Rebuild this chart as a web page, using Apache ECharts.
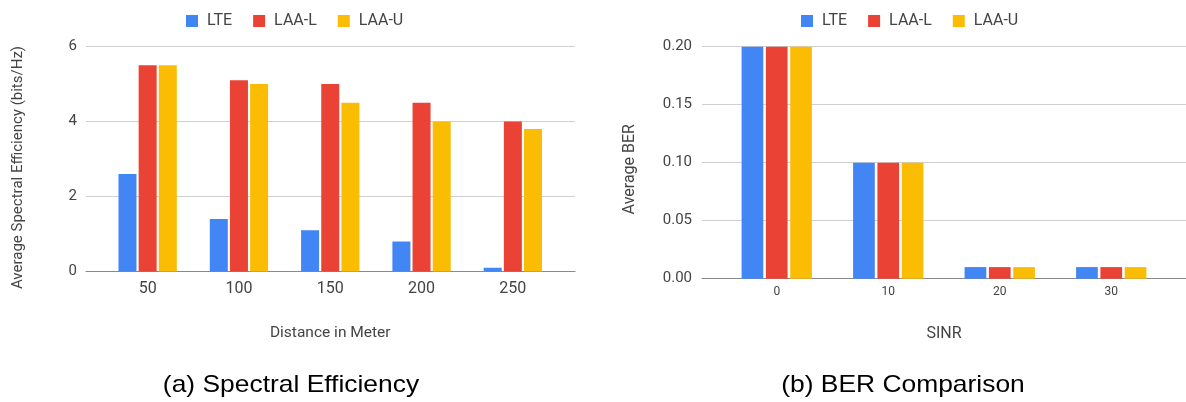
<!DOCTYPE html>
<html>
<head>
<meta charset="utf-8">
<script src="https://cdn.jsdelivr.net/npm/echarts@6/dist/echarts.min.js"></script>
<style>
html,body{margin:0;padding:0;background:#fff;}
#chart{width:1186px;height:402px;}
</style>
</head>
<body>
<div id="chart"></div>
<script>
// ---- Data: (a) Spectral Efficiency ----
const seCategories = ['50', '100', '150', '200', '250'];
const seLTE  = [2.6, 1.4, 1.1, 0.8, 0.1];
const seLAAL = [5.5, 5.1, 5.0, 4.5, 4.0];
const seLAAU = [5.5, 5.0, 4.5, 4.0, 3.8];
const seTicks = [0, 2, 4, 6];

// ---- Data: (b) BER Comparison ----
const berCategories = ['0', '10', '20', '30'];
const berLTE  = [0.20, 0.10, 0.01, 0.01];
const berLAAL = [0.20, 0.10, 0.01, 0.01];
const berLAAU = [0.20, 0.10, 0.01, 0.01];
const berTicks = [0, 0.05, 0.10, 0.15, 0.20];

const seriesNames = ['LTE', 'LAA-L', 'LAA-U'];
const captions = ['(a) Spectral Efficiency', '(b) BER Comparison'];
const colors = ['#4285F4', '#EA4335', '#FBBC04'];

const FONT = 'Roboto';
const TXT = '#444';

const chart = echarts.init(document.getElementById('chart'), null, {renderer: 'canvas'});

function frameX(gridIndex) {
  return {
    type: 'value', gridIndex: gridIndex, min: 0, max: 1,
    axisLine: {show: true, onZero: false, lineStyle: {color: '#8a8a8a', width: 1.2}},
    axisTick: {show: false}, axisLabel: {show: false}, splitLine: {show: false}
  };
}

function frameY(gridIndex, ticks, fmt, fontSize, margin, name, nameSize, nameGap, namePad) {
  const step = ticks[1] - ticks[0];
  return {
    type: 'value', gridIndex: gridIndex,
    min: ticks[0], max: ticks[ticks.length - 1], interval: step,
    axisLine: {show: false}, axisTick: {show: false},
    axisLabel: {color: TXT, fontFamily: FONT, fontSize: fontSize, margin: margin, formatter: fmt},
    splitLine: {show: true, lineStyle: {color: '#d0d0d0', width: 1}},
    name: name, nameLocation: 'middle', nameGap: nameGap,
    nameTextStyle: {color: TXT, fontFamily: FONT, fontSize: nameSize, padding: namePad}
  };
}

function barsY(gridIndex, ticks) {
  return {type: 'value', gridIndex: gridIndex, min: ticks[0], max: ticks[ticks.length - 1], show: false};
}

function barsX(gridIndex, cats, fontSize, margin, name, nameSize, nameGap) {
  return {
    type: 'category', gridIndex: gridIndex, data: cats, boundaryGap: true,
    axisLine: {show: false}, axisTick: {show: false},
    axisLabel: {color: TXT, fontFamily: FONT, fontSize: fontSize, margin: margin},
    splitLine: {show: false},
    name: name, nameLocation: 'middle', nameGap: nameGap,
    nameTextStyle: {color: TXT, fontFamily: FONT, fontSize: nameSize}
  };
}

function barSeries(idx, name, data, color, width) {
  return {
    type: 'bar', name: name, data: data, xAxisIndex: idx, yAxisIndex: idx,
    barWidth: width, barGap: '12%',
    itemStyle: {color: color}
  };
}

function legend(left) {
  return {
    left: left, top: 8, icon: 'rect', itemWidth: 12, itemHeight: 12, itemGap: 21,
    data: seriesNames,
    textStyle: {color: TXT, fontFamily: FONT, fontSize: 16, lineHeight: 14, padding: [0, 0, 0, 4]}
  };
}

function caption(text, cx) {
  return {
    type: 'text', x: cx, y: 385, scaleX: 1.1, scaleY: 1,
    style: {text: text, fill: '#000', font: 'normal 24px "Liberation Sans", Arial, sans-serif',
            textAlign: 'center', textVerticalAlign: 'middle'}
  };
}

const option = {
  backgroundColor: '#fff',
  animation: false,
  color: colors,
  graphic: [caption(captions[0], 291), caption(captions[1], 903)],
  legend: [legend(181), legend(796)],
  grid: [
    {left: 86, right: 611, top: 46.5, bottom: 130.5},
    {left: 102, right: 627.5, top: 46.5, bottom: 130.5},
    {left: 702, right: 0, top: 46.7, bottom: 123.3},
    {left: 721, right: 19, top: 46.7, bottom: 123.3}
  ],
  xAxis: [
    frameX(0),
    barsX(1, seCategories, 16, 9, 'Distance in Meter', 15.5, 54),
    frameX(2),
    barsX(3, berCategories, 12, 7, 'SINR', 16, 47)
  ],
  yAxis: [
    frameY(0, seTicks, v => String(v), 15, 9, 'Average Spectral Efficiency (bits/Hz)', 15, 60, [0, 17, 0, 0]),
    barsY(1, seTicks),
    frameY(2, berTicks, v => v.toFixed(2), 15, 10, 'Average BER', 16, 64, [0, 13, 0, 0]),
    barsY(3, berTicks)
  ],
  series: [
    barSeries(1, 'LTE', seLTE, colors[0], 18),
    barSeries(1, 'LAA-L', seLAAL, colors[1], 18),
    barSeries(1, 'LAA-U', seLAAU, colors[2], 18),
    barSeries(3, 'LTE', berLTE, colors[0], 21.7),
    barSeries(3, 'LAA-L', berLAAL, colors[1], 21.7),
    barSeries(3, 'LAA-U', berLAAU, colors[2], 21.7)
  ]
};

chart.setOption(option);
</script>
</body>
</html>
